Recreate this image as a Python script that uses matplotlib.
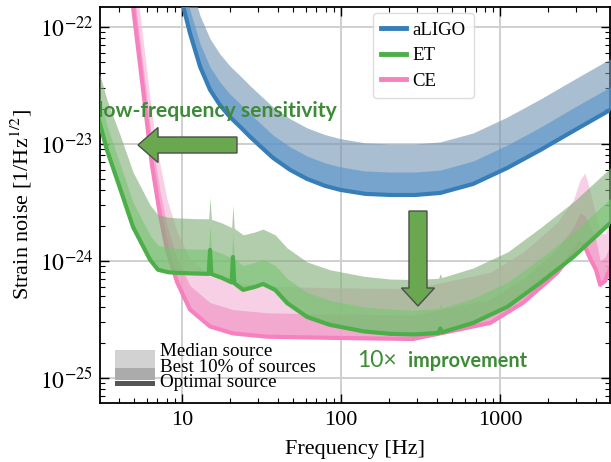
import matplotlib
matplotlib.use("Agg")
import matplotlib.pyplot as plt
import matplotlib.patches as mpatches
from matplotlib.lines import Line2D
from matplotlib.ticker import FixedLocator

plt.rcParams['font.family'] = ['Liberation Serif', 'DejaVu Serif']
plt.rcParams['mathtext.fontset'] = 'stix'

# ---------------- strain noise curves ----------------
# aLIGO
aligo_f = [9.2, 10.2, 11.2, 13.0, 15.0, 17.3, 20.0, 23.2, 26.8, 30.9, 37.3, 47.8,
           61.1, 79.3, 98.6, 142, 203, 292, 420, 676, 1110, 1790, 2880, 5000]
aligo_opt = [2.47e-22, 1.48e-22, 8.9e-23, 4.55e-23, 2.9e-23, 2.15e-23, 1.70e-23,
             1.40e-23, 1.15e-23, 9.6e-24, 7.6e-24, 6.0e-24, 5.02e-24, 4.38e-24,
             4.05e-24, 3.74e-24, 3.66e-24, 3.66e-24, 3.81e-24, 4.55e-24, 6.24e-24,
             8.88e-24, 1.29e-23, 1.98e-23]
aligo_best = [3.88e-22, 2.32e-22, 1.40e-22, 7.14e-23, 4.55e-23, 3.38e-23, 2.67e-23,
              2.20e-23, 1.81e-23, 1.51e-23, 1.19e-23, 9.42e-24, 7.88e-24, 6.88e-24,
              6.36e-24, 5.87e-24, 5.75e-24, 5.75e-24, 5.98e-24, 7.14e-24, 9.8e-24,
              1.39e-23, 2.03e-23, 3.11e-23]
aligo_med = [6.74e-22, 4.04e-22, 2.43e-22, 1.24e-22, 7.92e-23, 5.87e-23, 4.64e-23,
             3.82e-23, 3.14e-23, 2.62e-23, 2.07e-23, 1.64e-23, 1.37e-23, 1.20e-23,
             1.11e-23, 1.02e-23, 9.99e-24, 9.99e-24, 1.04e-23, 1.24e-23, 1.70e-23,
             2.42e-23, 3.52e-23, 5.41e-23]

# Einstein Telescope
et_f = [3.0, 3.37, 4.07, 4.92, 6.3, 7.06, 8.2, 9.3, 12.0, 14.7, 15.0, 15.3, 17.8,
        20.5, 20.9, 21.3, 24.2, 28.8, 32.3, 38.5, 45.8, 61.1, 85, 138, 203, 283,
        410, 420, 430, 676, 1110, 1790, 2880, 5000]
et_opt = [1.6e-23, 8.9e-24, 4.2e-24, 1.95e-24, 1.02e-24, 8.4e-25, 8.0e-25, 7.9e-25,
          7.8e-25, 7.75e-25, 1.24e-24, 7.7e-25, 7.16e-25, 6.55e-25, 1.08e-24, 6.45e-25,
          5.65e-25, 6.0e-25, 6.35e-25, 5.65e-25, 4.36e-25, 3.32e-25, 2.84e-25, 2.5e-25,
          2.38e-25, 2.35e-25, 2.42e-25, 2.65e-25, 2.45e-25, 2.95e-25, 4.05e-25,
          6.5e-25, 1.08e-24, 2.15e-24]
et_best = [2.6e-23, 1.44e-23, 6.8e-24, 3.16e-24, 1.65e-24, 1.36e-24, 1.30e-24,
           1.28e-24, 1.26e-24, 1.26e-24, 2.0e-24, 1.25e-24, 1.16e-24, 1.06e-24,
           1.75e-24, 1.04e-24, 9.15e-25, 9.7e-25, 1.03e-24, 9.15e-25, 7.06e-25,
           5.38e-25, 4.6e-25, 4.05e-25, 3.86e-25, 3.8e-25, 3.92e-25, 4.3e-25, 3.97e-25,
           4.78e-25, 6.56e-25, 1.05e-24, 1.75e-24, 3.48e-24]
et_med = [4.2e-23, 2.4e-23, 1.2e-23, 5.75e-24, 3.0e-24, 2.48e-24, 2.36e-24, 2.33e-24,
          2.3e-24, 2.29e-24, 3.5e-24, 2.27e-24, 2.11e-24, 1.93e-24, 3.0e-24, 1.9e-24,
          1.67e-24, 1.77e-24, 1.87e-24, 1.67e-24, 1.29e-24, 9.8e-25, 8.4e-25, 7.4e-25,
          7.0e-25, 6.93e-25, 7.1e-25, 7.8e-25, 7.2e-25, 8.7e-25, 1.19e-24, 1.92e-24,
          3.19e-24, 6.34e-24]

# Cosmic Explorer
ce_f = [4.57, 4.92, 5.69, 6.47, 7.27, 8.05, 9.3, 11.2, 15.0, 20.9, 34.3, 85, 283,
        420, 866, 1396, 2280, 2880, 3170, 3410, 3665, 4000, 4250, 4570, 5000]
ce_opt = [3.4e-22, 1.48e-22, 2.9e-23, 6.6e-24, 2.47e-24, 1.24e-24, 6.6e-25, 3.85e-25,
          2.75e-25, 2.4e-25, 2.25e-25, 2.2e-25, 2.15e-25, 2.4e-25, 2.95e-25, 4.4e-25,
          7.9e-25, 1.19e-24, 1.43e-24, 1.32e-24, 1.06e-24, 8.4e-25, 6.24e-25, 6.75e-25,
          9.2e-25]
ce_best = [5.44e-22, 2.37e-22, 4.64e-23, 1.06e-23, 3.95e-24, 1.98e-24, 1.06e-24,
           6.16e-25, 4.4e-25, 3.84e-25, 3.6e-25, 3.52e-25, 3.44e-25, 3.84e-25, 4.72e-25,
           7.04e-25, 1.26e-24, 1.95e-24, 2.55e-24, 2.45e-24, 2.0e-24, 1.5e-24, 1.0e-24,
           1.08e-24, 1.47e-24]
ce_med = [9.2e-22, 4.0e-22, 7.8e-23, 1.78e-23, 6.7e-24, 3.35e-24, 1.78e-24, 1.04e-24,
          7.4e-25, 6.5e-25, 6.1e-25, 5.9e-25, 5.8e-25, 6.5e-25, 8.0e-25, 1.19e-24,
          2.13e-24, 3.3e-24, 4.9e-24, 5.65e-24, 4.0e-24, 2.47e-24, 1.74e-24, 1.7e-24,
          2.3e-24]

detector_names = ["aLIGO", "ET", "CE"]
band_names = ["Median source", "Best 10% of sources", "Optimal source"]
x_ticks = [10, 100, 1000]
x_tick_labels = ["10", "100", "1000"]
y_ticks = [1e-25, 1e-24, 1e-23, 1e-22]
y_tick_labels = [r"$10^{-25}$", r"$10^{-24}$", r"$10^{-23}$", r"$10^{-22}$"]

# ---------------- figure ----------------
fig = plt.figure(figsize=(6.11, 4.62), dpi=100)
ax = fig.add_axes([100 / 611, 1 - 403 / 462, 510 / 611, 396 / 462])
ax.set_xscale("log")
ax.set_yscale("log")
ax.set_xlim(3.05, 4900)
ax.set_ylim(6.1e-26, 1.48e-22)


def draw_detector(f, opt, best, med, c_med, c_best, c_line, a_med, a_best, z):
    ax.fill_between(f, opt, med, color=c_med, alpha=a_med, lw=0, zorder=z)
    ax.fill_between(f, opt, best, color=c_best, alpha=a_best, lw=0, zorder=z + 0.1)
    ax.plot(f, opt, color=c_line, lw=3.0, zorder=z + 0.2, solid_joinstyle="round")


draw_detector(ce_f, ce_opt, ce_best, ce_med, "#f6bcdb", "#f297c7", "#f781bf",
              0.7, 0.7, 2.0)
draw_detector(et_f, et_opt, et_best, et_med, "#7fad75", "#78c672", "#4daf4a",
              0.6, 0.6, 3.0)
draw_detector(aligo_f, aligo_opt, aligo_best, aligo_med, "#7193b1", "#5794cb",
              "#377eb8", 0.6, 0.6, 4.0)

# ---------------- axes styling ----------------
ax.set_axisbelow(True)
ax.grid(True, which="major", color="#cfcfcf", lw=1.4)
ax.set_xticks(x_ticks)
ax.set_xticklabels(x_tick_labels)
ax.yaxis.set_major_locator(FixedLocator(y_ticks))
ax.set_yticklabels(y_tick_labels)
ax.tick_params(which="both", direction="in", top=True, right=True)
ax.tick_params(which="major", length=6.5, width=1.0)
ax.tick_params(which="minor", length=3.5, width=0.8)
ax.tick_params(axis="x", which="major", labelsize=16, pad=6)
ax.tick_params(axis="y", which="major", labelsize=17, pad=5)
for s in ax.spines.values():
    s.set_linewidth(1.3)

ax.set_xlabel("Frequency [Hz]", fontsize=16)
ax.set_ylabel("Strain noise [1/Hz$^{1/2}$]", fontsize=16)
ax.xaxis.set_label_coords(0.5, -0.093)
ax.yaxis.set_label_coords(-0.129, 0.5)

# ---------------- detector legend ----------------
handles = [Line2D([], [], color=c, lw=3.5) for c in ("#377eb8", "#4daf4a", "#f781bf")]
leg = ax.legend(handles, detector_names, loc="upper left",
                bbox_to_anchor=(0.535, 0.985), borderaxespad=0, fontsize=13.5,
                handlelength=1.3, handletextpad=0.35, labelspacing=0.45,
                borderpad=0.45, framealpha=0.85, edgecolor="#d8d8d8")
leg.set_zorder(10)

# ---------------- source-population key ----------------
key_colors = ["#d2d2d2", "#ababab"]
ax.add_patch(mpatches.Rectangle((0.0294, 0.0884), 0.0784, 0.0454,
                                transform=ax.transAxes, color=key_colors[0], lw=0, zorder=6))
ax.add_patch(mpatches.Rectangle((0.0294, 0.0581), 0.0784, 0.0303,
                                transform=ax.transAxes, color=key_colors[1], lw=0, zorder=6))
ax.add_patch(mpatches.Rectangle((0.0294, 0.0429), 0.0784, 0.0127,
                                transform=ax.transAxes, color="#555555", lw=0, zorder=6))
for name, yb in zip(band_names, [0.1187, 0.079, 0.0396]):
    ax.text(0.1176, yb, name, transform=ax.transAxes, fontsize=13.7,
            va="baseline", ha="left", zorder=7)

# ---------------- annotations ----------------
green_txt = "#3d8b37"
sans = ["Lato", "DejaVu Sans"]
renderer = fig.canvas.get_renderer()


def fitted_text(x, y, s, width_px, weight):
    t = ax.text(x, y, s, transform=ax.transAxes, fontsize=13, family=sans,
                fontweight=weight, color=green_txt, va="baseline", ha="left",
                zorder=8)
    w = t.get_window_extent(renderer).width
    t.set_fontsize(13 * width_px / w)
    return t


low_t = fitted_text(-0.0039, 0.7222, "low-frequency sensitivity", 239, "bold")
low_t.set_clip_on(True)
impr_t = fitted_text(0.604, 0.0909, "improvement", 119, "bold")
ax.text(0.504, 0.0909, "10\u00d7", transform=ax.transAxes,
        fontsize=impr_t.get_fontsize() * 1.15, family=sans, color=green_txt,
        va="baseline", ha="left", zorder=8)

arrow_kw = dict(transform=ax.transAxes, facecolor="#6aa84f", edgecolor="#4d4d4d",
                lw=1.0, length_includes_head=True, zorder=9)
ax.add_patch(mpatches.FancyArrow(0.2686, 0.6515, -0.1941, 0, width=0.0404,
                                 head_width=0.0884, head_length=0.0392, **arrow_kw))
ax.add_patch(mpatches.FancyArrow(0.6235, 0.4848, 0, -0.2399, width=0.0353,
                                 head_width=0.0647, head_length=0.0455, **arrow_kw))

fig.savefig("out.png", dpi=100)
